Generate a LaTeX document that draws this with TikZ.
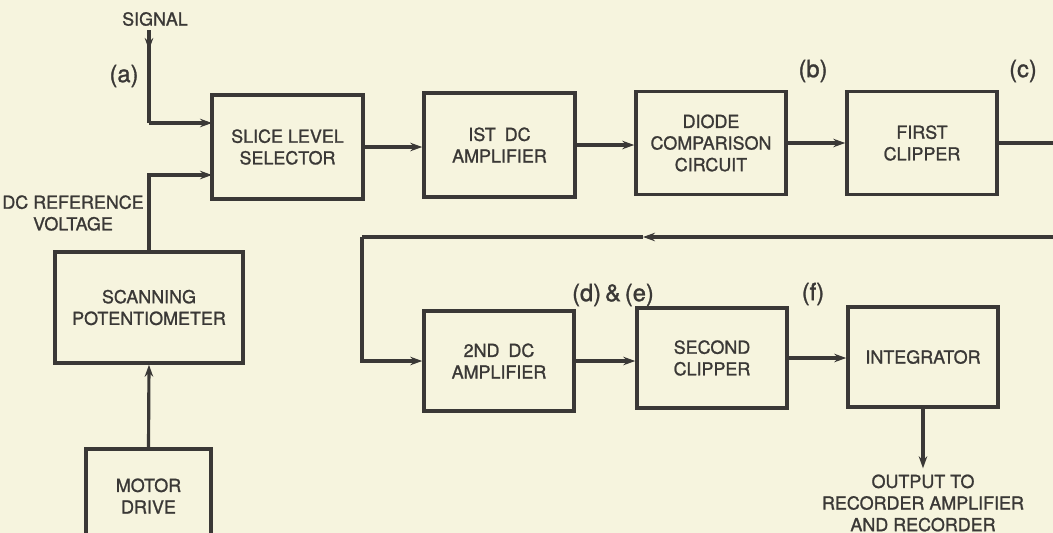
\documentclass[tikz,border=0pt]{standalone}
\usepackage{fontspec}
\setmainfont{TeX Gyre Heros}[FakeBold=1.2]
\usetikzlibrary{arrows.meta,positioning}
\definecolor{paper}{RGB}{246,244,222}
\definecolor{ink}{RGB}{58,56,54}
\tikzset{
  block/.style={draw=ink,line width=2pt,minimum width=30mm,minimum height=20.6mm,inner sep=0pt,align=center,text=ink},
  wire/.style={draw=ink,line width=1.8pt},
  feed/.style={wire,-{Stealth[length=2.4mm,width=1.7mm,inset=0.8mm]}},
  tag/.style={text=ink,font=\fontsize{13.5}{15}\selectfont},
  caption/.style={text=ink,align=center},
}

\begin{document}
\begin{tikzpicture}[x=0.2mm,y=-0.2mm, every node/.style={font=\fontsize{10.2}{12.3}\selectfont}]
  \path[use as bounding box,fill=paper] (0,0) rectangle (1053,533);
  \clip (0,0) rectangle (1053,533);
  % blocks
  \node[block,minimum width=30.2mm,minimum height=20.8mm] (slice) at (287.5,147) {SLICE LEVEL\\SELECTOR};
  \node[block,minimum width=30.2mm,minimum height=20.8mm] (amp1) at (499.5,145) {IST\enspace DC\\AMPLIFIER};
  \node[block] (diode) at (711,143) {DIODE\\COMPARISON\\CIRCUIT};
  \node[block] (clip1) at (922,143) {FIRST\\CLIPPER};
  \node[block,minimum width=37.6mm,minimum height=22.2mm] (scan) at (149,307.5) {SCANNING\\POTENTIOMETER};
  \node[block,minimum width=25mm,minimum height=18.8mm] (motor) at (148.5,496) {MOTOR\\DRIVE};
  \node[block,minimum height=20mm] (amp2) at (499,361) {2ND\enspace DC\\AMPLIFIER};
  \node[block,minimum height=20mm] (clip2) at (712,358) {SECOND\\CLIPPER};
  \node[block,minimum height=20mm] (integ) at (923,357) {INTEGRATOR};
  % texts
  \node[caption] (signal) at (155,19) {SIGNAL};
  \node[caption] (dcref) at (73,213) {DC REFERENCE\\VOLTAGE};
  \node[caption] (output) at (923,503) {OUTPUT TO\\RECORDER AMPLIFIER\\AND RECORDER};
  \node[tag] (ta) at (124,76) {(a)};
  \node[tag] (tb) at (813,71) {(b)};
  \node[tag] (tc) at (1023,71) {(c)};
  \node[tag] (tde) at (613,295) {(d)\,\&\,(e)};
  \node[tag] (tf) at (813,294) {(f)};
  % turning points
  \coordinate (sigtop) at (149,30);
  \coordinate (sigturn) at (149,123);
  \coordinate (sigin) at (212,123);
  \coordinate (refin) at (212,175);
  \coordinate (clipout) at (1053,143);
  \coordinate (fbin) at (1053,237);
  \coordinate (fbmid) at (643,237);
  \coordinate (fbturn) at (362,237);
  % connectors
  \draw[feed] (sigtop) -- (149,50);
  \draw[wire] (sigtop) -- (sigturn);
  \draw[feed] (sigturn) -- (sigin);
  \draw[feed] (scan.north) |- (refin);
  \draw[feed] (motor.north) -- (scan.south);
  \draw[feed] (slice.east) -- (slice.east -| amp1.west);
  \draw[feed] (amp1.east) -- (amp1.east -| diode.west);
  \draw[feed] (diode.east) -- (diode.east -| clip1.west);
  \draw[wire] (clip1.east) -- (clipout);
  \draw[feed] (fbin) -- (fbmid);
  \draw[wire] (fbmid) -- (fbturn);
  \draw[feed] (fbturn) |- (amp2.west);
  \draw[feed] (amp2.east) -- (amp2.east -| clip2.west);
  \draw[feed] (clip2.east) -- (clip2.east -| integ.west);
  \draw[feed] (integ.south) -- (integ.south |- output.north);
\end{tikzpicture}
\end{document}
